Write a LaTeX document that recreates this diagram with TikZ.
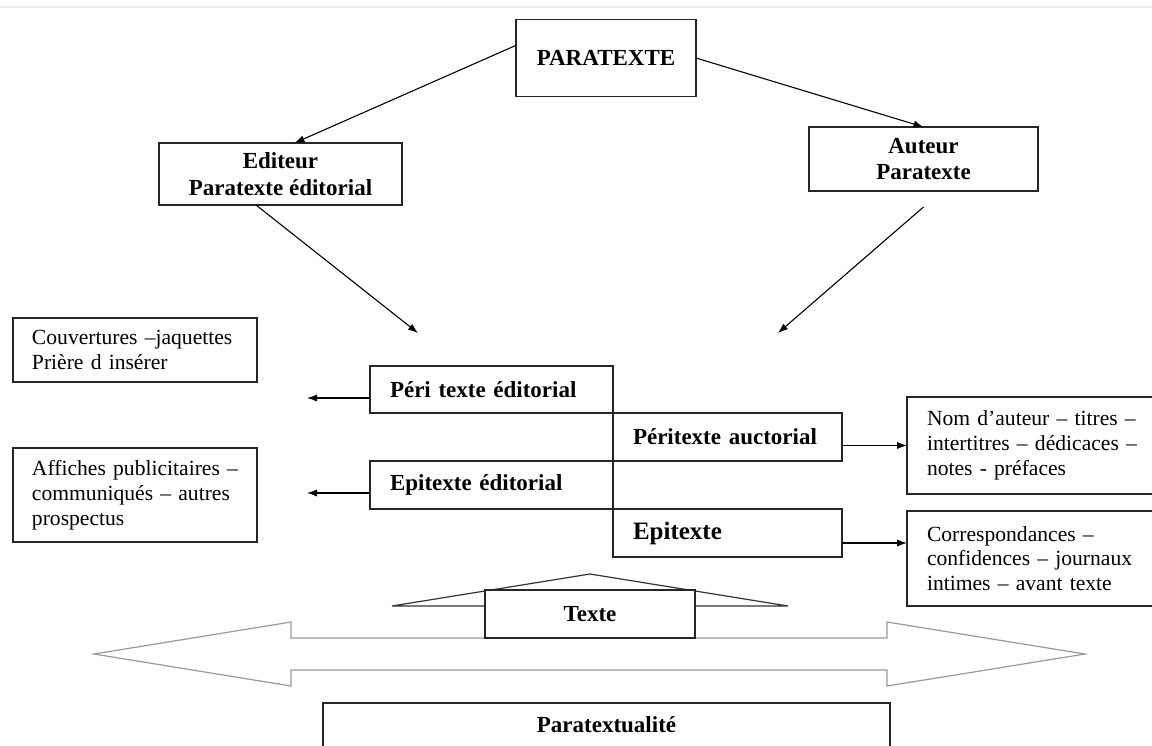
\documentclass[tikz,border=0pt]{standalone}
\usepackage{fontspec}
\setmainfont{Liberation Serif}
\usetikzlibrary{shapes, arrows, arrows.meta, positioning}
\tikzstyle{block} = [rectangle, draw=black!85, fill=white, line width=0.6pt, outer sep=0pt,
	inner sep=0pt, font=\bfseries\fontsize{11.5}{13.3}\selectfont, align=center]
\tikzstyle{etage} = [block, align=left, inner xsep=10pt, minimum height=24pt]
\tikzstyle{liste} = [rectangle, draw=black!85, fill=white, line width=0.6pt, outer sep=0pt,
	inner ysep=0pt, align=left, font=\fontsize{10.8}{12.4}\selectfont]
\tikzstyle{fleche} = [->, >={Latex[length=5pt, width=3.6pt]}, line width=0.55pt]

\begin{document}
\begin{tikzpicture}[x=0.5pt, y=-0.5pt, node distance=0pt]
		\useasboundingbox (0,0) rectangle (1152,745);
		\clip (0,0) rectangle (1152,745);
		\draw [black!8, line width=1pt] (0,7) -- (1152,7);

		%Place node
		\node [block, minimum width=90pt, minimum height=38.5pt] (paratexte) at (606,58) {PARATEXTE};
		\node [block, minimum width=121.5pt, minimum height=31pt] (editeur) at (280.5,174) {Editeur\\Paratexte éditorial};
		\node [block, minimum width=114.5pt, minimum height=32pt] (auteur) at (923.5,159) {Auteur\\Paratexte};

		\node [etage, text width=101.5pt, minimum height=23.5pt] (peri) at (491.5,389.5) {Péri texte éditorial};
		\node [etage, text width=94.5pt, below right=0pt and 0pt of peri] (periauct) {Péritexte auctorial};
		\node [etage, text width=101.5pt, below left=0pt and 0pt of periauct] (epied) {Epitexte éditorial};
		\node [etage, text width=94.5pt, below right=0pt and 0pt of epied] (epitexte) {\fontsize{12.5}{14}\selectfont Epitexte};

		\node [liste, inner xsep=9.5pt, text width=103pt, minimum height=32pt] (couv) at (135,350) {Couvertures –jaquettes\\Prière d insérer};
		\node [liste, inner xsep=9.5pt, text width=103pt, minimum height=47pt] (affiches) at (135,495) {Affiches publicitaires –\\communiqués – autres\\prospectus};
		\node [liste, inner xsep=10pt, text width=120pt, minimum height=48.5pt, anchor=north west] (nom) at (907,397) {Nom d’auteur – titres –\\intertitres – dédicaces –\\notes - préfaces};
		\node [liste, inner xsep=10pt, text width=120pt, minimum height=47.5pt, anchor=north west] (corresp) at (907,511) {Correspondances –\\confidences – journaux\\intimes – avant texte};

		%Texte et paratextualite
		\draw [gray!80, line width=0.6pt] (94,654) -- (291,622) -- (291,638) -- (887,638) -- (887,622) -- (1085,654)
			-- (887,686) -- (887,670) -- (291,670) -- (291,686) -- cycle;
		\draw [black!80, line width=0.6pt] (392,606) -- (590,574) -- (788,606) -- cycle;
		\node [block, minimum width=105pt, minimum height=24pt] (texte) at (590,614) {Texte};
		\node [block, minimum width=283.5pt, minimum height=22pt] (paratextualite) at (606.5,725) {Paratextualité};

		\coordinate (editTip) at (418,333);
		\coordinate (auteurTip) at (778,333);
		\coordinate (periOut) at ([yshift=-4.25pt]peri.west);
		\coordinate (epiedOut) at ([yshift=-4pt]epied.west);
		\coordinate [left=31.5pt of periOut] (periTip);
		\coordinate [left=31.5pt of epiedOut] (epiedTip);
		\coordinate (epiOut) at ([yshift=-5pt]epitexte.east);

		%Draw edges
		\draw [fleche] (paratexte.172) -- ([xshift=7pt]editeur.north);
		\draw [fleche] (paratexte.east) -- (auteur.north);
		\draw [fleche] ([xshift=-12.25pt]editeur.south) -- (editTip);
		\draw [fleche] ([yshift=-8pt]auteur.south) -- (auteurTip);

		\draw [fleche] (periOut) -- (periTip);
		\draw [fleche] (epiedOut) -- (epiedTip);
		\draw [fleche] (periauct.east |- nom.west) -- (nom.west);
		\draw [fleche] (epiOut) -- (epiOut -| corresp.west);

	\end{tikzpicture}
\end{document}
